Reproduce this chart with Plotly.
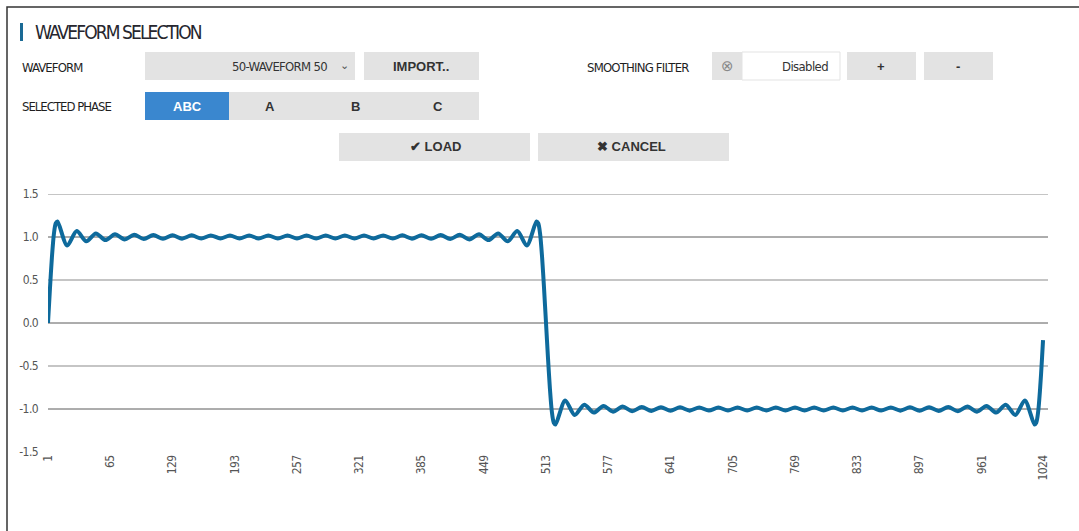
import plotly.graph_objects as go

# ---------------- data ----------------
sample_index = [
    1, 3, 5, 7, 9, 10.8, 20.7, 30.5, 40.4, 50.2, 60.1, 69.9, 79.8, 89.6, 99.5,
    109.3, 119.2, 129.0, 138.8, 148.7, 158.5, 168.4, 178.2, 188.1, 197.9, 207.8,
    217.6, 227.5, 237.3, 247.2, 257.0, 266.8, 276.7, 286.5, 296.4, 306.2, 316.1,
    325.9, 335.8, 345.6, 355.5, 365.3, 375.2, 385.0, 394.8, 404.7, 414.5, 424.4,
    434.2, 444.1, 453.9, 463.8, 473.6, 483.5, 493.3, 503.2, 505, 507, 509, 511,
    513, 515, 517, 519, 521, 522.8, 532.7, 542.5, 552.4, 562.2, 572.1, 581.9,
    591.8, 601.6, 611.5, 621.3, 631.2, 641.0, 650.8, 660.7, 670.5, 680.4, 690.2,
    700.1, 709.9, 719.8, 729.6, 739.5, 749.3, 759.2, 769.0, 778.8, 788.7, 798.5,
    808.4, 818.2, 828.1, 837.9, 847.8, 857.6, 867.5, 877.3, 887.2, 897.0, 906.8,
    916.7, 926.5, 936.4, 946.2, 956.1, 965.9, 975.8, 985.6, 995.5, 1005.3, 1015.2,
    1017, 1019, 1021, 1023, 1024,
]
amplitude = [
    0.0, 0.40, 0.76, 1.03, 1.16, 1.18, 0.90, 1.07, 0.95, 1.042, 0.964, 1.031,
    0.972, 1.026, 0.976, 1.022, 0.979, 1.020, 0.981, 1.019, 0.982, 1.018, 0.983,
    1.017, 0.983, 1.017, 0.983, 1.017, 0.983, 1.017, 0.983, 1.017, 0.983, 1.017,
    0.983, 1.017, 0.983, 1.017, 0.983, 1.018, 0.982, 1.019, 0.981, 1.020, 0.979,
    1.022, 0.976, 1.026, 0.972, 1.031, 0.964, 1.042, 0.95, 1.07, 0.90, 1.18,
    1.16, 1.03, 0.76, 0.40,
    0.0, -0.40, -0.76, -1.03, -1.16, -1.18, -0.90, -1.07, -0.95, -1.042, -0.964,
    -1.031, -0.972, -1.026, -0.976, -1.022, -0.979, -1.020, -0.981, -1.019,
    -0.982, -1.018, -0.983, -1.017, -0.983, -1.017, -0.983, -1.017, -0.983,
    -1.017, -0.983, -1.017, -0.983, -1.017, -0.983, -1.017, -0.983, -1.017,
    -0.983, -1.018, -0.982, -1.019, -0.981, -1.020, -0.979, -1.022, -0.976,
    -1.026, -0.972, -1.031, -0.964, -1.042, -0.95, -1.07, -0.90, -1.18,
    -1.16, -1.03, -0.76, -0.40, -0.20,
]
x_ticks = [1, 65, 129, 193, 257, 321, 385, 449, 513, 577, 641, 705, 769, 833, 897, 961, 1024]
y_ticks = [1.5, 1.0, 0.5, 0.0, -0.5, -1.0, -1.5]
y_tick_text = ["1.5", "1.0", "0.5", "0.0", "-0.5", "-1.0", "-1.5"]
y_gridlines = [1.5, 1.0, 0.5, 0.0, -0.5, -1.0]

title_text = "WAVEFORM SELECTION"
waveform_name = "50-WAVEFORM 50"
phases = ["ABC", "A", "B", "C"]
smoothing_state = "Disabled"

# ---------------- layout helpers ----------------
W, H = 1079, 531
L, R, T, B = 48, 1048, 194, 452
NARROW = "DejaVu Sans Condensed, DejaVu Sans, sans-serif"
ARIAL = "Liberation Sans, Arial, sans-serif"


def cond(s, ls=-0.6):
    return '<span style="font-stretch:condensed;letter-spacing:%spx">%s</span>' % (ls, s)


def px(x):
    return (x - L) / (R - L)


def py(y):
    return (B - y) / (B - T)


fig = go.Figure()
fig.add_trace(go.Scatter(
    x=sample_index, y=amplitude, mode="lines",
    line=dict(color="#0e6a9c", width=4, shape="spline", smoothing=0.8),
    hoverinfo="skip", showlegend=False,
))

shapes = []
annotations = []


def rect(x0, y0, x1, y1, fill, line=None):
    shapes.append(dict(type="rect", xref="paper", yref="paper",
                       x0=px(x0), x1=px(x1), y0=py(y0), y1=py(y1),
                       fillcolor=fill, line=dict(width=0) if line is None else line,
                       layer="below"))


def text(x, y, s, size=13, color="#333", family=NARROW, anchor="center"):
    annotations.append(dict(xref="paper", yref="paper", x=px(x), y=py(y), text=s,
                            showarrow=False, xanchor=anchor, yanchor="middle",
                            font=dict(size=size, color=color, family=family)))


# outer frame
rect(7, 7, 1100, 560, "rgba(0,0,0,0)", line=dict(color="#333", width=1.5))
# title
rect(20, 23, 23, 41, "#1a6a95")
text(33, 32, cond(title_text, -1.9), size=19, color="#26262e", anchor="left")

# row 1
text(20, 67, cond("WAVEFORM", -0.9), size=13, color="#1e1e1e", anchor="left")
rect(145, 52, 355, 80, "#e3e3e3")
text(329, 66, cond(waveform_name, -0.7), size=13, color="#333", anchor="right")
text(344, 65, "⌄", size=11, color="#555", family="DejaVu Sans")
rect(364, 52, 479, 80, "#e3e3e3")
text(421, 66, "<b>IMPORT..</b>", size=13, color="#333", family=ARIAL)

text(585, 67, cond("SMOOTHING FILTER", -0.8), size=13, color="#1e1e1e", anchor="left")
rect(712, 52, 742, 80, "#e3e3e3")
text(727, 66, "⊗", size=15, color="#888", family="DejaVu Sans")
rect(742, 52, 840, 80, "#ffffff", line=dict(color="#e3e3e3", width=1))
text(830, 66, cond(smoothing_state, -0.6), size=13, color="#333", anchor="right")
rect(847, 52, 916, 80, "#e3e3e3")
text(881, 66, "<b>+</b>", size=13, color="#333", family=ARIAL)
rect(924, 52, 993, 80, "#e3e3e3")
text(958, 66, "<b>-</b>", size=13, color="#333", family=ARIAL)

# row 2
text(20, 106, cond("SELECTED PHASE", -1.0), size=13, color="#1e1e1e", anchor="left")
rect(145, 92, 479, 120, "#e3e3e3")
rect(145, 92, 229, 120, "#3a87cf")
phase_x = [187, 270, 355, 438]
for i, p in enumerate(phases):
    text(phase_x[i], 106, "<b>%s</b>" % p, size=13,
         color="#ffffff" if i == 0 else "#333", family=ARIAL)

# row 3
rect(339, 133, 530, 161, "#e3e3e3")
text(435, 147, "<b>✔ LOAD</b>", size=13, color="#333", family=ARIAL)
rect(538, 133, 729, 161, "#e3e3e3")
text(631, 147, "<b>✖ CANCEL</b>", size=13, color="#333", family=ARIAL)

# gridlines (whole values darker/thin, half values lighter/thicker as in the picture)
for g in y_gridlines:
    whole = float(g).is_integer()
    shapes.append(dict(type="line", xref="paper", yref="y", x0=0, x1=1, y0=g, y1=g,
                       line=dict(color="#5a5a5a" if whole else "#b2b2b2",
                                 width=1 if whole else 1.6),
                       layer="below"))

fig.update_layout(
    width=W, height=H, autosize=False,
    margin=dict(l=L, r=W - R, t=T, b=H - B, pad=0),
    paper_bgcolor="white", plot_bgcolor="white",
    shapes=shapes, annotations=annotations,
    xaxis=dict(range=[1, 1029.1], tickvals=x_ticks, ticktext=[cond(str(v)) for v in x_ticks],
               tickangle=-90, showgrid=False, zeroline=False, showline=False,
               ticks="", tickfont=dict(family=NARROW, size=12, color="#555")),
    yaxis=dict(range=[-1.5, 1.5], tickvals=y_ticks, ticktext=[cond(t) for t in y_tick_text],
               showgrid=False, zeroline=False, showline=False, ticks="",
               ticklabelstandoff=9,
               tickfont=dict(family=NARROW, size=12, color="#555")),
)

fig.write_html("out.html", post_script="document.body.style.margin='0';",
               config={"displayModeBar": False})
